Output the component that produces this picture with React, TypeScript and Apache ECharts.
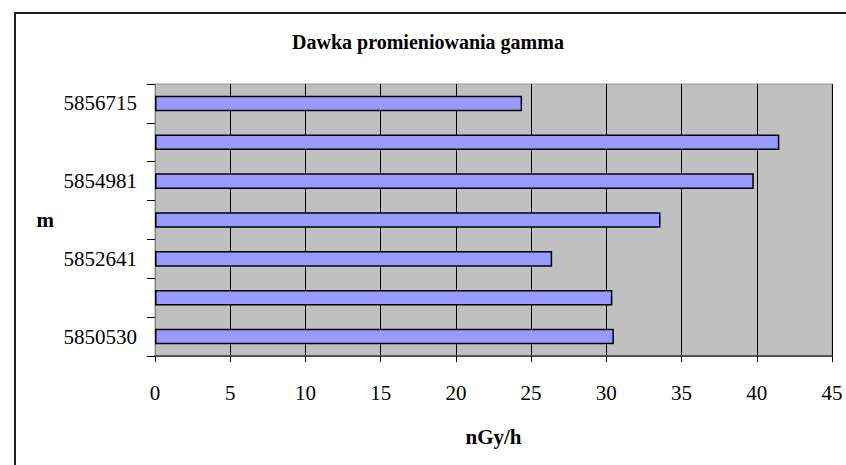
import React, { useEffect, useRef } from "react";
import * as echarts from "echarts";

const titleText = "Dawka promieniowania gamma";
const xAxisName = "nGy/h";
const yAxisName = "m";
// bottom to top; labels between the shown ones are not visible in the reference
const categories = ["5850530", "5851600", "5852641", "5853800", "5854981", "5855900", "5856715"];
const values = [30.5, 30.4, 26.4, 33.6, 39.8, 41.5, 24.4];
const xMin = 0;
const xMax = 45;
const xInterval = 5;

const FONT = "Liberation Serif";

export default function App() {
  const ref = useRef<HTMLDivElement>(null);
  useEffect(() => {
    document.body.style.margin = "0";
    if (!ref.current) return;
    const chart = echarts.init(ref.current, undefined, { renderer: "svg" });
    chart.setOption({
      animation: false,
      backgroundColor: "#ffffff",
      textStyle: { fontFamily: FONT },
      graphic: [
        {
          type: "rect",
          shape: { x: 15, y: 13, width: 900, height: 600 },
          style: { fill: "none", stroke: "#222", lineWidth: 2 },
          z: 100,
        },
        {
          type: "text",
          x: 428,
          y: 42,
          style: {
            text: titleText,
            fontFamily: FONT,
            fontWeight: "bold",
            fontSize: 20,
            fill: "#000",
            textAlign: "center",
            textVerticalAlign: "middle",
          },
        },
      ],
      grid: {
        left: 155,
        top: 84,
        right: 14,
        bottom: 109,
        show: true,
        backgroundColor: "#c0c0c0",
        borderColor: "#9a9a9a",
        borderWidth: 1,
        containLabel: false,
      },
      xAxis: {
        type: "value",
        min: xMin,
        max: xMax,
        interval: xInterval,
        name: xAxisName,
        nameLocation: "middle",
        nameGap: 81,
        nameTextStyle: { fontFamily: FONT, fontWeight: "bold", fontSize: 21, color: "#000", verticalAlign: "middle" },
        axisLine: { show: true, lineStyle: { color: "#555", width: 2 } },
        axisTick: { show: true, length: 6, lineStyle: { color: "#000", width: 1 } },
        axisLabel: { fontFamily: FONT, fontSize: 21, color: "#000", margin: 26 },
        splitLine: { show: true, lineStyle: { color: "#000", width: 1 } },
      },
      yAxis: {
        type: "category",
        data: categories,
        name: yAxisName,
        nameLocation: "middle",
        nameRotate: 0,
        nameGap: 101,
        nameTextStyle: { fontFamily: FONT, fontWeight: "bold", fontSize: 21, color: "#000" },
        axisLine: { show: true, lineStyle: { color: "#808080", width: 1 } },
        axisTick: { show: true, interval: 0, length: 8, lineStyle: { color: "#000", width: 1 } },
        axisLabel: { interval: 1, fontFamily: FONT, fontSize: 21, color: "#000", margin: 18 },
        splitLine: { show: false },
      },
      series: [
        {
          type: "bar",
          data: values,
          barWidth: "40%",
          itemStyle: { color: "#9999ff", borderColor: "#000", borderWidth: 1.5 },
        },
      ],
    });
    return () => chart.dispose();
  }, []);
  return <div ref={ref} style={{ width: 846, height: 465 }} />;
}
